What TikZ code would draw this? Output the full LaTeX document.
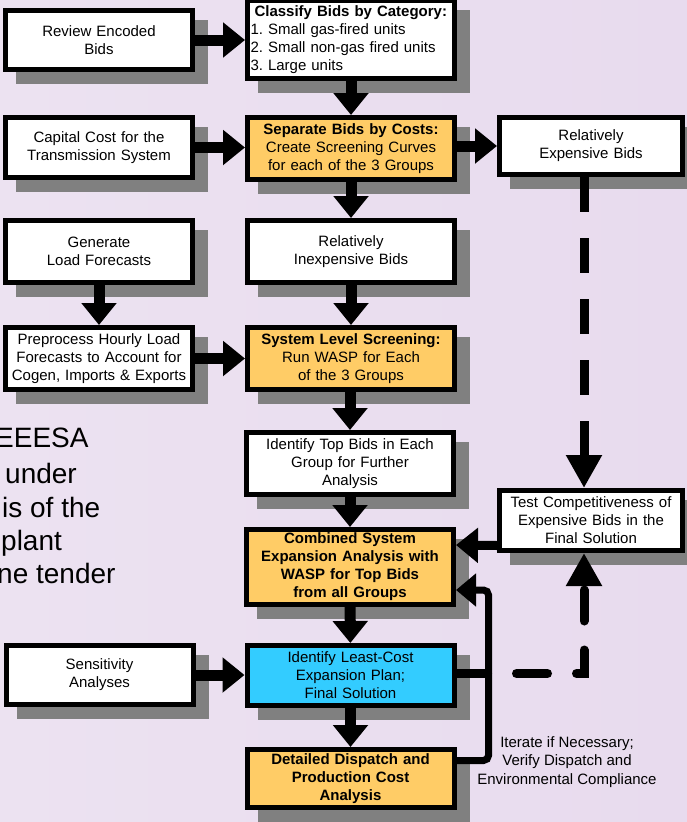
\documentclass[tikz,border=0pt]{standalone}
\usepackage{fontspec}
\setmainfont{Liberation Sans}
\usetikzlibrary{arrows.meta,shadows}

\definecolor{bidorange}{HTML}{FFCC66}
\definecolor{bidcyan}{HTML}{33CCFF}
\definecolor{shadowgray}{HTML}{808080}
\definecolor{lavleft}{HTML}{ECE2F1}
\definecolor{lavmid}{HTML}{F6F3F9}
\definecolor{lavright}{HTML}{E8DBEE}

\tikzset{
	box/.style={draw=black, line width=5pt, fill=white, align=center, inner sep=2pt,
		font=\fontsize{15}{18}\selectfont,
		drop shadow={shadow xshift=13pt, shadow yshift=-12pt, fill=shadowgray, draw=shadowgray, line width=5pt, opacity=1}},
	leftbox/.style={box, minimum width=187pt, text width=181pt},
	midbox/.style={box, minimum width=207pt, text width=201pt},
	rightbox/.style={box, minimum width=183pt, text width=177pt},
	flow/.style={line width=11pt, -{Triangle[width=34pt, length=22pt]}},
	dashflow/.style={line width=9pt, -{Triangle[width=34pt, length=33pt]}},
	slidetext/.style={anchor=base west, inner sep=0pt, font=\fontsize{28}{34}\selectfont}
}

\begin{document}
\begin{tikzpicture}[x=1pt, y=-1pt]
	\useasboundingbox (0,0) rectangle (687,822);
	\clip (0,0) rectangle (687,822);
	\shade[left color=lavleft, middle color=lavmid, right color=lavright] (0,0) rectangle (687,822);
	
	\draw (-5,447) node[slidetext] (slideA) {EEESA};
	\draw (5,483) node[slidetext] (slideB) {under};
	\draw (2,517) node[slidetext] (slideC) {is of the};
	\draw (1,550) node[slidetext] (slideD) {plant};
	\draw (-3,583) node[slidetext] (slideE) {ne tender};
	
	\draw (99,40) node[leftbox, minimum height=59pt] (review)
	{
		Review Encoded\\
		Bids
	};
	
	\draw (351,39.5) node[midbox, minimum height=78pt, align=left] (classify)
	{
		\hspace*{4pt}\textbf{Classify Bids by Category:}\\
		1.\ Small gas-fired units\\
		2.\ Small non-gas fired units\\
		3.\ Large units
	};
	
	\draw (99,147.5) node[leftbox, minimum height=60pt] (capital)
	{
		Capital Cost for the\\
		Transmission System
	};
	
	\draw (351,148.5) node[midbox, minimum height=62pt, fill=bidorange] (separate)
	{
		\textbf{Separate Bids by Costs:}\\
		Create Screening Curves\\
		for each of the 3 Groups
	};
	
	\draw (591,146) node[rightbox, minimum height=57pt] (expensive)
	{
		Relatively\\
		Expensive Bids
	};
	
	\draw (99,251.5) node[leftbox, minimum height=62pt] (generate)
	{
		Generate\\
		Load Forecasts
	};
	
	\draw (351,251.5) node[midbox, minimum height=62pt] (inexpensive)
	{
		Relatively\\
		Inexpensive Bids
	};
	
	\draw (99,358.5) node[leftbox, minimum height=62pt] (preprocess)
	{
		Preprocess Hourly Load\\
		Forecasts to Account for\\
		Cogen, Imports \& Exports
	};
	
	\draw (351,358.5) node[midbox, minimum height=62pt, fill=bidorange] (screening)
	{
		\textbf{System Level Screening:}\\
		Run WASP for Each\\
		of the 3 Groups
	};
	
	\draw (350,463.5) node[midbox, minimum height=62pt] (topbids)
	{
		Identify Top Bids in Each\\
		Group for Further\\
		Analysis
	};
	
	\draw (591,520.5) node[rightbox, minimum height=60pt] (test)
	{
		Test Competitiveness of\\
		Expensive Bids in the\\
		Final Solution
	};
	
	\draw (350,567) node[midbox, minimum height=75pt, fill=bidorange] (combined)
	{
		\textbf{Combined System}\\
		\textbf{Expansion Analysis with}\\
		\textbf{WASP for Top Bids}\\
		\textbf{from all Groups}
	};
	
	\draw (99.5,675) node[leftbox, minimum height=59pt] (sensitivity)
	{
		Sensitivity\\
		Analyses
	};
	
	\draw (350.5,675.5) node[midbox, minimum height=60pt, fill=bidcyan] (leastcost)
	{
		Identify Least-Cost\\
		Expansion Plan;\\
		Final Solution
	};
	
	\draw (350.5,778.5) node[midbox, minimum height=58pt, fill=bidorange] (dispatch)
	{
		\textbf{Detailed Dispatch and}\\
		\textbf{Production Cost}\\
		\textbf{Analysis}
	};
	
	\draw (567,762) node[align=center, font=\fontsize{15}{18.5}\selectfont] (iterate)
	{
		Iterate if Necessary;\\
		Verify Dispatch and\\
		Environmental Compliance
	};
	
	\draw [flow] (review.east) -- (review.east -| classify.west);
	\draw [flow] (classify) -- (separate);
	\draw [flow] (capital.east) -- (capital.east -| separate.west);
	\draw [flow] (separate.east |- expensive.west) -- (expensive.west);
	\draw [flow] (separate) -- (inexpensive);
	\draw [flow] (generate) -- (preprocess);
	\draw [flow] (inexpensive) -- (screening);
	\draw [flow] (preprocess) -- (screening);
	\draw [flow] (screening.south -| topbids.north) -- (topbids.north);
	\draw [flow] (topbids) -- (combined);
	\draw [flow] (combined) -- (leastcost);
	\draw [flow] (sensitivity.east) -- (sensitivity.east -| leastcost.west);
	\draw [flow] (leastcost) -- (dispatch);
	\draw [flow, line width=9pt] ([yshift=-25pt]test.west) -- ([yshift=22pt]combined.east);
	\draw [line width=7pt, rounded corners=5pt, -{Triangle[width=32pt, length=20pt]}]
		([yshift=18pt]dispatch.east) -- ++(32,0) |- ([yshift=-23pt]combined.east);
	\draw [dashflow, dash pattern=on 35pt off 26pt] ([xshift=-7pt]expensive.south) -- ([xshift=-7pt]test.north);
	\draw [dashflow, line cap=round, dash pattern=on 31pt off 29pt] ([yshift=2pt]leastcost.east) -| ([xshift=-7pt]test.south);
\end{tikzpicture}
\end{document}
